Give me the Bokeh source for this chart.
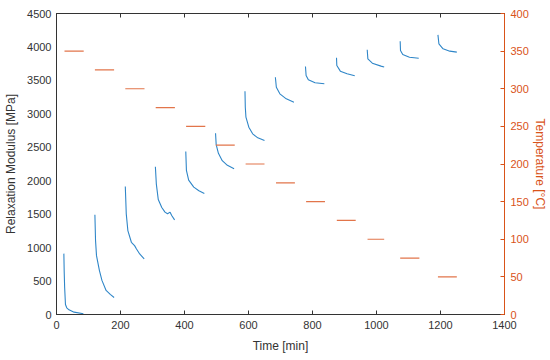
from bokeh.plotting import figure
from bokeh.models import Range1d, LinearAxis, FixedTicker, CustomJSTickFormatter
from bokeh.embed import file_html
from bokeh.resources import INLINE

# ---- data ----
relax_time = [
    [23, 24, 25.5, 28, 32, 39, 55, 84],
    [120, 122, 125, 134, 142, 155, 168, 180],
    [215, 218, 223, 234, 244, 250, 260, 274],
    [309, 312, 318, 329, 339, 347, 355, 360, 369],
    [404, 406, 413, 429, 445, 462],
    [497, 499, 506, 518, 534, 555],
    [589, 590, 592, 601, 613, 629, 650],
    [684, 687, 698, 718, 742],
    [778, 780, 787, 808, 837],
    [875, 876, 887, 908, 932],
    [971, 973, 987, 1014, 1024],
    [1074, 1075, 1082, 1103, 1132],
    [1192, 1195, 1208, 1229, 1251],
]
relax_modulus = [
    [910, 650, 400, 150, 100, 70, 35, 10],
    [1490, 1105, 880, 660, 510, 360, 300, 255],
    [1915, 1505, 1255, 1080, 1030, 980, 905, 830],
    [2210, 1950, 1720, 1600, 1530, 1505, 1530, 1480, 1415],
    [2437, 2153, 2010, 1905, 1850, 1810],
    [2711, 2540, 2410, 2300, 2230, 2180],
    [3338, 3099, 2950, 2800, 2701, 2641, 2601],
    [3548, 3398, 3299, 3224, 3174],
    [3708, 3573, 3508, 3464, 3449],
    [3838, 3723, 3638, 3598, 3568],
    [3957, 3822, 3757, 3713, 3700],
    [4086, 3947, 3887, 3847, 3832],
    [4181, 4047, 3972, 3937, 3922],
]
temp_start = [25, 120, 215, 310, 405, 498, 591, 686, 780, 876, 972, 1074, 1192]
temp_end = [85, 180, 275, 370, 465, 557, 650, 745, 839, 935, 1024, 1134, 1251]
temp_value = [350, 325, 300, 275, 250, 225, 200, 175, 150, 125, 100, 75, 50]

x_ticks = [0, 200, 400, 600, 800, 1000, 1200, 1400]
y_ticks = [0, 500, 1000, 1500, 2000, 2500, 3000, 3500, 4000, 4500]
t_ticks = [0, 50, 100, 150, 200, 250, 300, 350, 400]

BLUE = "#2F86C8"
ORANGE = "#D95319"
SEG = "#E2754A"
DARK = "#333333"
FONT = "Liberation Sans"

p = figure(width=549, height=355, output_backend="svg", toolbar_location=None,
           x_range=Range1d(0, 1400), y_range=Range1d(0, 4500))
p.extra_y_ranges = {"temp": Range1d(0, 400)}
p.min_border_left = 56
p.min_border_right = 45
p.min_border_top = 13
p.min_border_bottom = 38
p.xgrid.visible = False
p.ygrid.visible = False
p.outline_line_color = DARK
p.outline_line_width = 1
p.background_fill_color = "white"
p.border_fill_color = "white"

for t, v in zip(relax_time, relax_modulus):
    p.line(t, v, line_color=BLUE, line_width=1.1)

p.segment(x0=temp_start, y0=temp_value, x1=temp_end, y1=temp_value,
          line_color=SEG, line_width=1.2, y_range_name="temp")

def style(ax, color, tick_in):
    ax.axis_line_color = color
    ax.major_tick_line_color = color
    ax.major_tick_in = tick_in
    ax.major_tick_out = 0
    ax.minor_tick_line_color = None
    ax.major_label_text_color = color
    ax.major_label_text_font = FONT
    ax.major_label_text_font_size = "11px"
    ax.axis_label_text_color = color
    ax.axis_label_text_font = FONT
    ax.axis_label_text_font_size = "12px"
    ax.axis_label_text_font_style = "normal"

xa = p.xaxis[0]
style(xa, DARK, 4)
xa.ticker = FixedTicker(ticks=x_ticks)
xa.axis_label = "Time [min]"
xa.major_label_standoff = 6
xa.axis_label_standoff = 7

ya = p.yaxis[0]
style(ya, DARK, 0)
ya.ticker = FixedTicker(ticks=y_ticks)
ya.axis_label = "Relaxation Modulus [MPa]"
ya.major_label_standoff = 5
ya.axis_label_standoff = 6

ra = LinearAxis(y_range_name="temp", axis_label="Temperature [°C]")
style(ra, ORANGE, 4)
ra.ticker = FixedTicker(ticks=t_ticks)
ra.major_label_standoff = 6
ra.axis_label_standoff = 1
p.add_layout(ra, "right")

ta = LinearAxis()
style(ta, DARK, 4)
ta.ticker = FixedTicker(ticks=x_ticks)
ta.major_label_text_font_size = "0px"
ta.major_label_standoff = 0
ta.formatter = CustomJSTickFormatter(code="return '';")
p.add_layout(ta, "above")

open("out.html", "w").write(file_html(p, INLINE))
